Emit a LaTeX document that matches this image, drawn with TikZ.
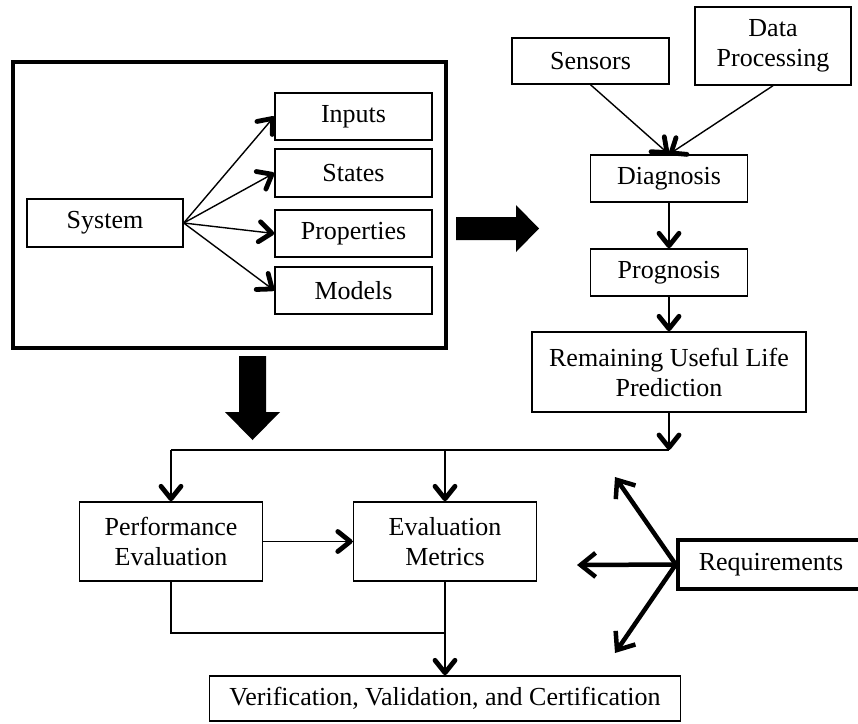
\documentclass[tikz,border=0pt]{standalone}
\usepackage{fontspec}
\setmainfont{Liberation Serif}
\usetikzlibrary{arrows.meta,decorations.markings}
\tikzset{
  box/.style={draw, line width=1.4pt, inner sep=0pt, align=center,
    font=\fontsize{26}{30}\selectfont},
  flow/.style={line width=1.4pt, postaction={decorate, decoration={markings,
    mark=at position 1 with {\draw[line width=4.8pt, line cap=round, line join=round]
      (-15pt,10pt) -- (-2.5pt,0pt) -- (-15pt,-10pt);}}}},
  req/.style={line width=4.5pt,
    arrows={-Straight Barb[length=15pt,width=24pt]}},
}
\begin{document}
\begin{tikzpicture}[x=1pt,y=-1pt]
      \useasboundingbox (0,0) rectangle (858,723);
      \clip (0,0) rectangle (858,723);
      \draw[line width=3.5pt] (13,62) rectangle (446,348);
      \draw
        (105,223) node[box, minimum width=156pt, minimum height=48pt] (system){System}
        (353.5,116.5) node[box, minimum width=157pt, minimum height=47pt] (inputs){Inputs}
        (353.5,173) node[box, minimum width=157pt, minimum height=48pt] (states){States}
        (353.5,233.5) node[box, minimum width=157pt, minimum height=47pt] (properties){Properties}
        (353.5,290.5) node[box, minimum width=157pt, minimum height=47pt] (models){Models}
        (590.5,61) node[box, minimum width=157pt, minimum height=46pt] (sensors){Sensors}
        (773,46) node[box, minimum width=156pt, minimum height=78pt] (dataproc){Data\\Processing}
        (669,178.5) node[box, minimum width=157pt, minimum height=47pt] (diagnosis){Diagnosis}
        (669,272.5) node[box, minimum width=157pt, minimum height=47pt] (prognosis){Prognosis}
        (669,372) node[box, minimum width=274pt, minimum height=80pt] (rul){Remaining Useful Life\\Prediction}
        (171,541.5) node[box, minimum width=183pt, minimum height=79pt] (perf){Performance\\Evaluation}
        (445,541.5) node[box, minimum width=183pt, minimum height=79pt] (metrics){Evaluation\\Metrics}
        (445,698.5) node[box, minimum width=471pt, minimum height=45pt] (vvc){Verification, Validation, and Certification}
        (771,564.5) node[box, line width=4.5pt, minimum width=186pt, minimum height=49pt] (reqs){Requirements};
      \coordinate (join) at (669,450);
      \coordinate (merge) at (445,633);
      \coordinate (requp) at (615,477);
      \coordinate (reqleft) at (577,565);
      \coordinate (reqdown) at (615,653);
      \fill (456,217) -- (516,217) -- (516,205) -- (539,228.5) -- (516,252)
        -- (516,240) -- (456,240) -- cycle;
      \fill (239,356) -- (266,356) -- (266,412) -- (280,412) -- (252.5,440)
        -- (225,412) -- (239,412) -- cycle;
      \draw[flow] (system.east) to (inputs.west);
      \draw[flow] (system.east) to (states.west);
      \draw[flow] (system.east) to (properties.west);
      \draw[flow] (system.east) to (models.west);
      \draw[flow] (sensors.south) to (diagnosis.north);
      \draw[flow] (dataproc.south) to (diagnosis.north);
      \draw[flow] (diagnosis) to (prognosis);
      \draw[flow] (prognosis) to (rul);
      \draw[flow] (rul) to (join);
      \draw[flow] (join -| perf) to (perf.north);
      \draw[flow] (join -| metrics) to (metrics.north);
      \draw[flow] (perf) to (metrics);
      \draw[flow] (merge) to (vvc.north);
      \begin{scope}[line width=1.4pt]
        \draw (join) to (join -| perf);
        \draw (perf.south) |- (merge);
        \draw (metrics.south) to (merge);
      \end{scope}
      \begin{scope}[req]
        \draw (reqs.west) to (requp);
        \draw (reqs.west) to (reqleft);
        \draw (reqs.west) to (reqdown);
      \end{scope}
    \end{tikzpicture}
\end{document}
